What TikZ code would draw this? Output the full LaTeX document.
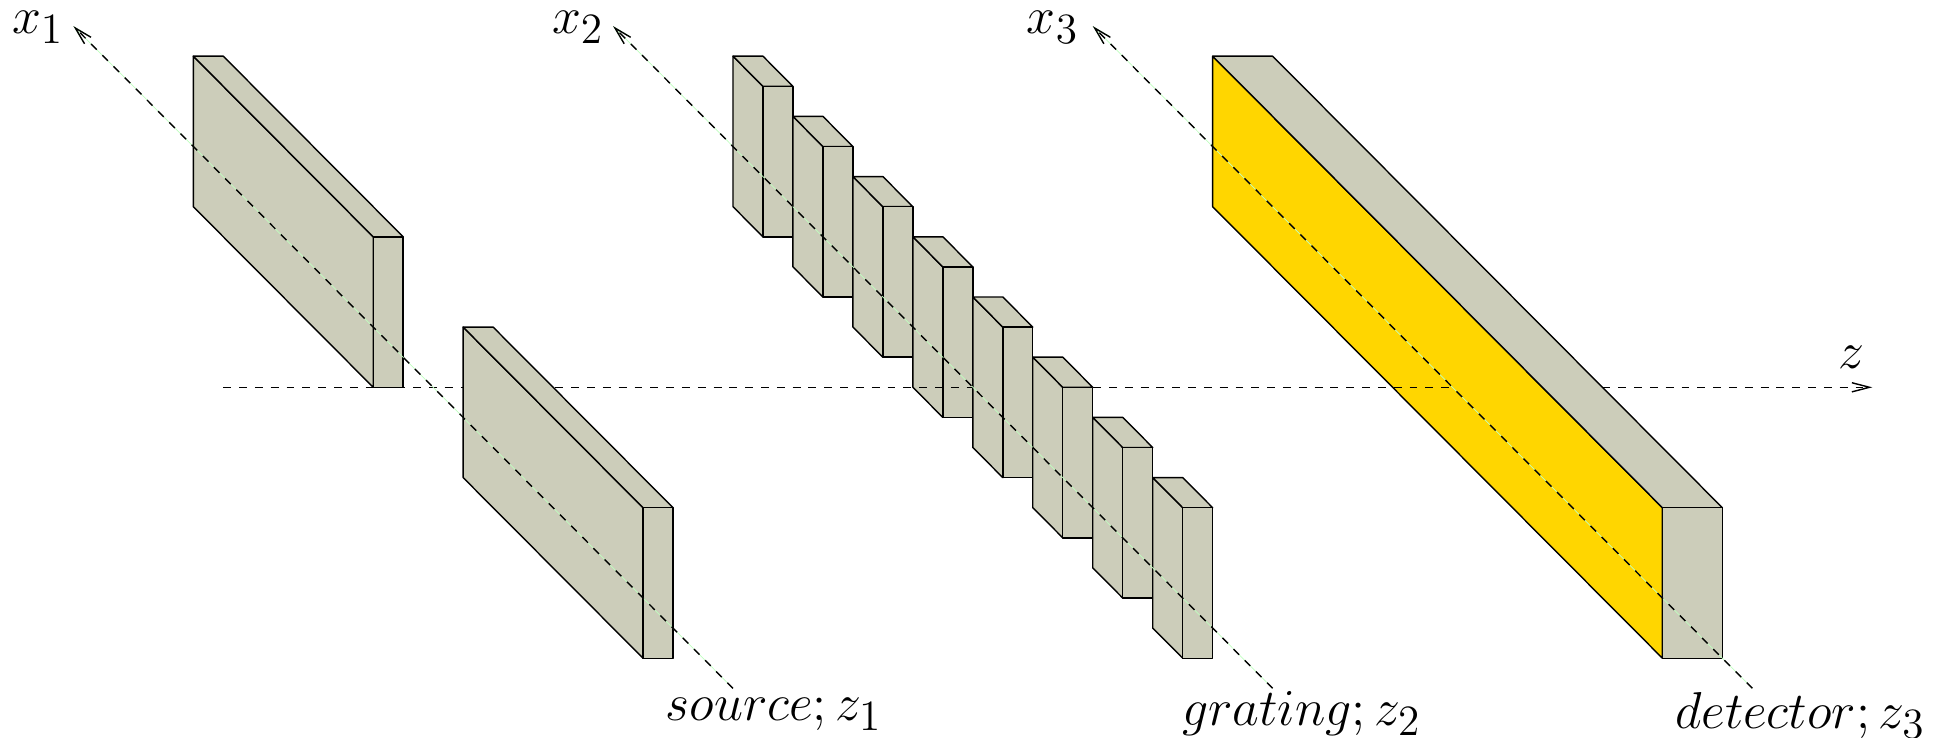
\documentclass[tikz,border=0pt]{standalone}
\usepackage{amsmath,amssymb}
\usepackage{tikz}
\usetikzlibrary{arrows.meta,positioning,calc}
\definecolor{PlateGray}{RGB}{204,205,186}
\definecolor{ScreenGold}{RGB}{255,214,0}
\DeclareMathSizes{14.4}{14.4}{12}{9}
% one slab: back top corner #1, thickness #2, depth #3, height #4, face colour #5
\newcommand{\slab}[5]{
    \coordinate (a) at #1;
    \draw[plate, fill=#5] (a) -- ++(#3,-#3) -- ++(0,-#4) -- ++(-#3,#3) -- cycle;
    \draw[plate] (a) -- ++(#2,0) -- ++(#3,-#3) -- ++(-#2,0) -- cycle;
    \draw[plate] ($(a)+(#3,-#3)$) -- ++(#2,0) -- ++(0,-#4) -- ++(-#2,0) -- cycle;
}
\begin{document}
\begin{tikzpicture}[x=0.2998cm, y=0.301cm,
    plate/.style={draw=black, fill=PlateGray, line join=round},
    zaxis/.style={dash pattern=on 2.25pt off 2.25pt},
    xaxis/.style={zaxis, preaction={draw=green!25, solid, line width=0.2pt}},
    axistip/.style={-{Straight Barb[length=5pt, width=2.6pt]}},
    every node/.style={font=\fontsize{14.4}{18}\selectfont, inner sep=0pt, scale=1.025, transform shape}]
    \useasboundingbox (-12.448,12.867) rectangle (52.46,-11.618);
    \coordinate (zstart) at (-5,0);
    \coordinate (zbreak) at (36,0);
    \coordinate (zresume) at (41,0);
    \coordinate (zend) at (50,0);
    \coordinate (xa1) at (12,-10);
    \coordinate (xb1) at (-10,12);
    \coordinate (xa2) at (30,-10);
    \coordinate (xb2) at (8,12);
    \coordinate (xa3) at (46,-10);
    \coordinate (xb3) at (24,12);
    % parts behind the z axis
    \slab{(-6,11)}{1}{6}{5}{PlateGray}
    \foreach \k in {0,...,3} {
        \slab{(12+2*\k,11-2*\k)}{1}{1}{5}{PlateGray}
    }
    \slab{(28,11)}{2}{15}{5}{ScreenGold}
    % z axis
    \draw[zaxis] (zstart) -- (zbreak);
    \draw[zaxis, axistip] (zresume) -- (zend);
    % parts in front of it
    \slab{(3,2)}{1}{6}{5}{PlateGray}
    \foreach \k in {4,...,7} {
        \slab{(12+2*\k,11-2*\k)}{1}{1}{5}{PlateGray}
    }
    % x axes
    \draw[xaxis, axistip] (xa1) -- (xb1);
    \draw[xaxis, axistip] (xa2) -- (xb2);
    \draw[xaxis, axistip] (xa3) -- (xb3);
    % labels
    \node (lx1) at (-11.18,11.97) {$x_1$};
    \node (lx2) at (6.83,11.97) {$x_2$};
    \node (lx3) at (22.67,11.97) {$x_3$};
    \node (lz) at (49.3,0.98) {$z$};
    \node (lsource) at (13.37,-10.86) {$source;z_1$};
    \node (lgrating) at (30.97,-10.85) {$grating;z_2$};
    \node (ldetector) at (47.6,-10.9) {$detector;z_3$};
\end{tikzpicture}
\end{document}
